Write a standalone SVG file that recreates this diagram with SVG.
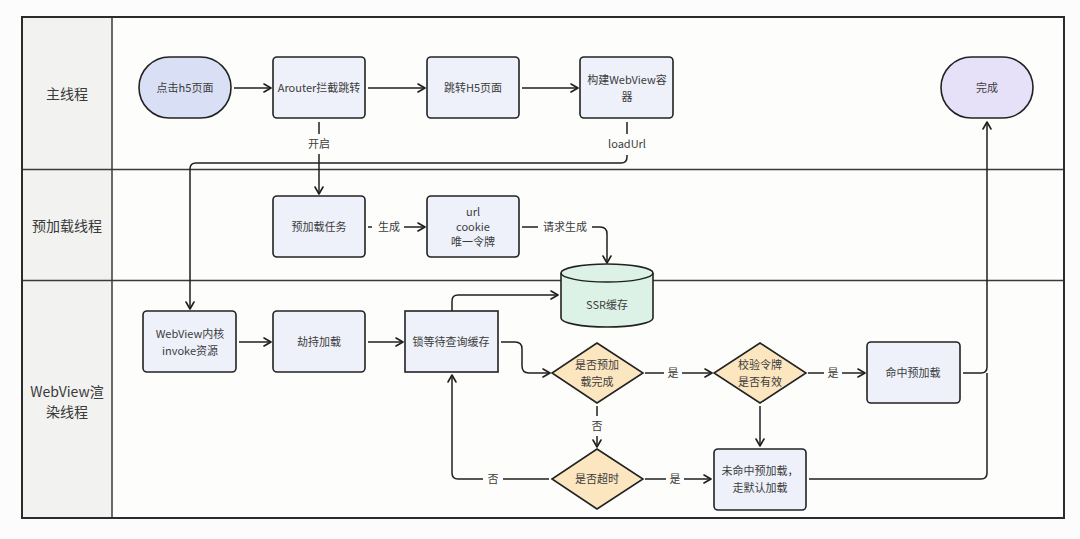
<svg xmlns="http://www.w3.org/2000/svg" width="1080" height="539" viewBox="0 0 1080 539">
<defs>
<marker id="arr" viewBox="0 0 10 10" refX="9" refY="5" markerWidth="10" markerHeight="10" markerUnits="userSpaceOnUse" orient="auto">
<path d="M2,1 L9,5 L2,9" fill="none" stroke="#1f1f1f" stroke-width="1.6" stroke-linecap="round" stroke-linejoin="round"/>
</marker>
<style>
.lane-bg{fill:#f2f2f0}
.main-bg{fill:#fdfdfb}
.frame{fill:none;stroke:#2b2b2b;stroke-width:2}
.div{stroke:#3a3a3a;stroke-width:1.5}
.lane-t{font-family:"Noto Sans CJK SC","Noto Sans",sans-serif;font-size:14px;fill:#3a3a3a;text-anchor:middle}
.box{fill:#eef1fa;stroke:#222;stroke-width:1.6}
.start{fill:#d9dff4;stroke:#222;stroke-width:1.6}
.end{fill:#e6e1f8;stroke:#222;stroke-width:1.6}
.dia{fill:#fbe6c0;stroke:#222;stroke-width:1.6}
.cyl{fill:#dcf2e6;stroke:#222;stroke-width:1.6}
.t{font-family:"Noto Sans CJK SC","Noto Sans",sans-serif;font-size:11px;fill:#3c3c3c;text-anchor:middle}
.conn{fill:none;stroke:#1f1f1f;stroke-width:1.5}
.lbl-bg{fill:#fdfdfb}
</style>
</defs>
<rect x="0" y="0" width="1080" height="539" fill="#fcfcfc"/>

<g id="lanes">
<rect class="main-bg" x="22" y="17" width="1042" height="501"/>
<rect class="lane-bg" x="22" y="17" width="90" height="501"/>
<line class="div" x1="22" y1="169.5" x2="1064" y2="169.5"/>
<line class="div" x1="22" y1="280.5" x2="1064" y2="280.5"/>
<line class="div" x1="112" y1="17" x2="112" y2="518"/>
<rect class="frame" x="22" y="17" width="1042" height="501"/>
<text class="lane-t" x="67" y="99">主线程</text>
<text class="lane-t" x="67" y="231">预加载线程</text>
<text class="lane-t" x="67" y="397">WebView渲</text>
<text class="lane-t" x="67" y="417">染线程</text>
</g>

<g id="connectors">
<path class="conn" d="M234,88 H271" marker-end="url(#arr)"/>
<path class="conn" d="M368,88 H425" marker-end="url(#arr)"/>
<path class="conn" d="M522,88 H578" marker-end="url(#arr)"/>
<path class="conn" d="M319,122 V194" marker-end="url(#arr)"/>
<path class="conn" d="M627,122 V157 Q627,163 621,163 H196 Q190,163 190,169 V309" marker-end="url(#arr)"/>
<path class="conn" d="M368,227 H425" marker-end="url(#arr)"/>
<path class="conn" d="M522,227 H600 Q607,227 607,234 V263" marker-end="url(#arr)"/>
<path class="conn" d="M239,342 H271" marker-end="url(#arr)"/>
<path class="conn" d="M368,342 H403" marker-end="url(#arr)"/>
<path class="conn" d="M452,311 V301 Q452,295 458,295 H558" marker-end="url(#arr)"/>
<path class="conn" d="M501,342 H515 Q522,342 522,349 V366 Q522,373 529,373 H550" marker-end="url(#arr)"/>
<path class="conn" d="M645,373 H712" marker-end="url(#arr)"/>
<path class="conn" d="M808,373 H865" marker-end="url(#arr)"/>
<path class="conn" d="M963,373 H981 Q987,373 987,367 V122" marker-end="url(#arr)"/>
<path class="conn" d="M597,406 V447" marker-end="url(#arr)"/>
<path class="conn" d="M760,406 V446" marker-end="url(#arr)"/>
<path class="conn" d="M645,479 H711" marker-end="url(#arr)"/>
<path class="conn" d="M549,479 H458 Q452,479 452,473 V375" marker-end="url(#arr)"/>
<path class="conn" d="M809,479 H981 Q987,479 987,473 V373"/>
<rect class="lbl-bg" x="307" y="134" width="24" height="20"/>
<text class="t" x="319" y="148">开启</text>
<rect class="lbl-bg" x="604" y="134" width="46" height="21"/>
<text class="t" x="627" y="148">loadUrl</text>
<rect class="lbl-bg" x="372" y="217" width="32" height="20"/>
<text class="t" x="389" y="231">生成</text>
<rect class="lbl-bg" x="538" y="217" width="54" height="20"/>
<text class="t" x="565" y="231">请求生成</text>
<rect class="lbl-bg" x="664" y="363" width="18" height="20"/>
<text class="t" x="673" y="377">是</text>
<rect class="lbl-bg" x="824" y="363" width="18" height="20"/>
<text class="t" x="833" y="377">是</text>
<rect class="lbl-bg" x="587" y="416" width="20" height="20"/>
<text class="t" x="597" y="430">否</text>
<rect class="lbl-bg" x="666" y="469" width="18" height="20"/>
<text class="t" x="675" y="483">是</text>
<rect class="lbl-bg" x="483" y="469" width="20" height="20"/>
<text class="t" x="493" y="483">否</text>
</g>

<g id="n-click">
<rect class="start" x="139" y="57" width="92" height="61" rx="30.5"/>
<text class="t" x="185" y="92">点击h5页面</text>
</g>
<g id="n-arouter">
<rect class="box" x="273" y="57" width="92" height="61" rx="4"/>
<text class="t" x="319" y="92">Arouter拦截跳转</text>
</g>
<g id="n-jump">
<rect class="box" x="427" y="57" width="92" height="61" rx="4"/>
<text class="t" x="473" y="92">跳转H5页面</text>
</g>
<g id="n-build">
<rect class="box" x="580" y="57" width="93" height="61" rx="4"/>
<text class="t" x="627" y="84">构建WebView容</text>
<text class="t" x="627" y="101">器</text>
</g>
<g id="n-done">
<rect class="end" x="941" y="57" width="92" height="61" rx="30.5"/>
<text class="t" x="987" y="92">完成</text>
</g>
<g id="n-pretask">
<rect class="box" x="273" y="196" width="92" height="61" rx="4"/>
<text class="t" x="319" y="231">预加载任务</text>
</g>
<g id="n-token">
<rect class="box" x="427" y="196" width="92" height="61" rx="4"/>
<text class="t" x="473" y="216">url</text>
<text class="t" x="473" y="231">cookie</text>
<text class="t" x="473" y="246">唯一令牌</text>
</g>
<g id="n-ssr">
<path class="cyl" d="M561,273 A46,9 0 0 1 653,273 V318 A46,9 0 0 1 561,318 Z"/>
<path class="conn" d="M561,273 A46,9 0 0 0 653,273"/>
<text class="t" x="607" y="309">SSR缓存</text>
</g>
<g id="n-invoke">
<rect class="box" x="143" y="311" width="93" height="61" rx="4"/>
<text class="t" x="190" y="338">WebView内核</text>
<text class="t" x="190" y="355">invoke资源</text>
</g>
<g id="n-hijack">
<rect class="box" x="273" y="311" width="92" height="61" rx="4"/>
<text class="t" x="319" y="346">劫持加载</text>
</g>
<g id="n-lock">
<rect class="box" x="405" y="311" width="93" height="61" rx="0"/>
<text class="t" x="451" y="346">锁等待查询缓存</text>
</g>
<g id="n-preloaded">
<polygon class="dia" points="597,343 643,373 597,403 552,373"/>
<text class="t" x="597" y="369">是否预加</text>
<text class="t" x="597" y="386">载完成</text>
</g>
<g id="n-verify">
<polygon class="dia" points="760,343 806,373 760,403 714,373"/>
<text class="t" x="760" y="369">校验令牌</text>
<text class="t" x="760" y="386">是否有效</text>
</g>
<g id="n-hit">
<rect class="box" x="867" y="342" width="93" height="61" rx="4"/>
<text class="t" x="913" y="377">命中预加载</text>
</g>
<g id="n-timeout">
<polygon class="dia" points="597,449 643,479 597,509 552,479"/>
<text class="t" x="597" y="483">是否超时</text>
</g>
<g id="n-miss">
<rect class="box" x="714" y="449" width="92" height="61" rx="4"/>
<text class="t" x="760" y="475">未命中预加载，</text>
<text class="t" x="760" y="492">走默认加载</text>
</g>
</svg>
